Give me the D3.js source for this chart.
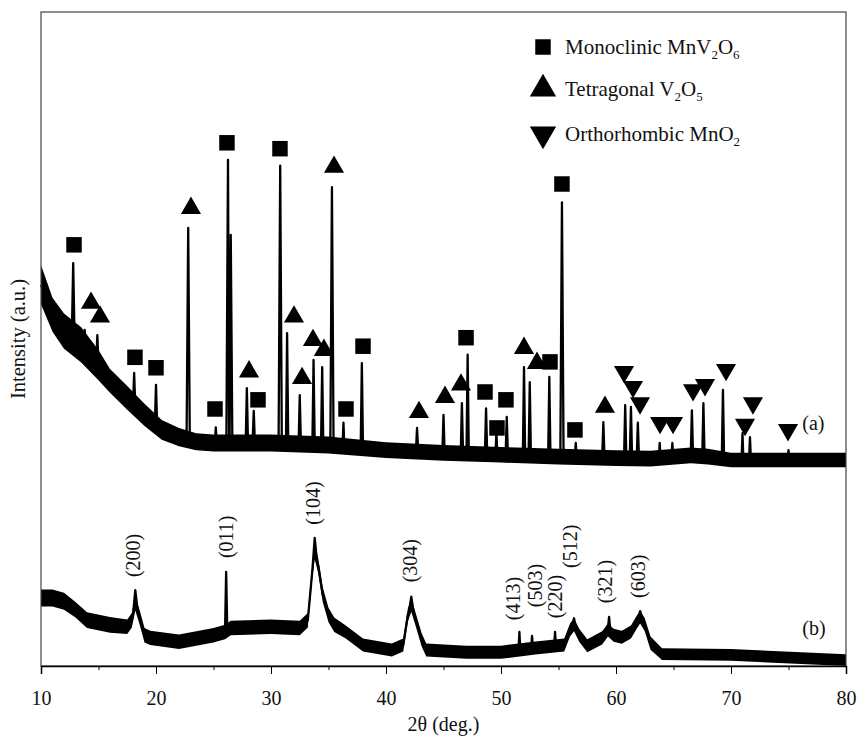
<!DOCTYPE html>
<meta charset="utf-8">
<style>
body { margin: 0; background: #fff; }
svg text { font-family: "Liberation Serif", "Times New Roman", serif; fill: #111; }
</style>
<body>
<svg width="858" height="745"></svg>
<script src="https://d3js.org/d3.v7.min.js"></script>
<script>

// ---- data (2θ in deg., intensity in a.u.) ----

// pattern (a): mid line of the noisy band [2θ, intensity, half band]
var baseA = [[10, 58.3, 3.0], [11, 53.7, 2.6], [12, 51.2, 2.7], [13.5, 49.1, 2.7], [15, 46.0, 2.3],
  [16, 43.6, 1.8], [17.5, 41.0, 1.8], [19, 38.4, 1.7], [20.5, 36.1, 1.5], [22, 35.0, 1.4],
  [23.5, 34.3, 1.3], [25, 34.1, 1.3], [30, 34.1, 1.3], [35, 33.8, 1.3], [40, 33.0, 1.2],
  [45, 32.6, 1.2], [50, 32.3, 1.2], [55, 32.0, 1.2], [60, 31.8, 1.2], [63, 31.7, 1.2],
  [66.5, 32.2, 1.2], [68, 32.0, 1.2], [70, 31.5, 1.1], [80, 31.5, 1.1]];

// pattern (a): sharp reflections [2θ, apex, half width]
var peaksA = [[12.8, 61.6, 0.12], [13.8, 51.4, 0.1], [14.9, 50.6, 0.1], [18.1, 44.8, 0.1],
  [20.0, 43.0, 0.1], [22.8, 67.0, 0.14], [25.2, 36.5, 0.08], [26.26, 77.4, 0.14], [26.5, 65.9, 0.14],
  [27.9, 42.5, 0.1], [28.5, 39.0, 0.1], [30.8, 76.5, 0.14], [31.4, 50.9, 0.1], [32.5, 41.4, 0.1],
  [33.7, 46.8, 0.1], [34.45, 45.7, 0.1], [35.3, 73.2, 0.14], [36.3, 37.2, 0.08], [37.9, 46.3, 0.1],
  [42.7, 36.4, 0.1], [45.0, 38.4, 0.1], [46.6, 40.2, 0.1], [47.1, 47.6, 0.1], [48.7, 39.4, 0.1],
  [49.6, 35.8, 0.08], [50.5, 38.1, 0.1], [52.0, 45.7, 0.1], [52.5, 43.4, 0.1], [54.2, 44.2, 0.1],
  [55.3, 70.9, 0.14], [56.5, 34.1, 0.08], [58.9, 37.3, 0.1], [60.8, 39.9, 0.1], [61.3, 39.6, 0.1],
  [61.9, 37.2, 0.1], [63.8, 34.1, 0.08], [64.9, 34.1, 0.08], [66.6, 39.1, 0.1], [67.6, 40.2, 0.1],
  [69.3, 42.2, 0.1], [71.0, 35.6, 0.08], [71.65, 35.0, 0.08], [75.0, 33.0, 0.08]];

// phase markers above pattern (a) [2θ, intensity]
var squares = [[12.87, 64.4], [18.17, 47.2], [20.0, 45.6], [25.13, 39.3], [26.17, 80.0], [28.87, 40.7],
  [30.78, 79.1], [36.52, 39.3], [38.0, 48.9], [46.96, 50.2], [48.61, 41.9], [49.65, 36.4],
  [50.43, 40.7], [54.26, 46.5], [55.3, 73.7], [56.43, 36.1]];
var upTriangles = [[14.35, 55.5], [15.13, 53.4], [23.04, 70.0], [28.09, 45.0], [32.0, 53.4],
  [32.7, 44.0], [33.65, 49.8], [34.6, 48.3], [35.48, 76.3], [42.87, 38.8], [45.13, 41.1],
  [46.52, 43.0], [52.0, 48.6], [53.13, 46.3], [59.04, 39.6]];
var downTriangles = [[60.7, 45.0], [61.48, 42.7], [62.09, 40.2], [63.83, 37.2], [64.96, 37.2],
  [66.7, 42.2], [67.74, 43.0], [69.57, 45.3], [71.91, 40.2], [71.22, 36.9], [74.96, 36.1]];

// pattern (b): mid line of the band, broad humps included
var baseB = [[10, 10.4, 1.3], [11, 10.4, 1.3], [12, 9.9, 1.3], [13, 8.6, 1.2], [14, 7.0, 1.2],
  [16, 6.3, 1.2], [17.5, 6.0, 1.1], [17.9, 7.0, 1.1], [18.2, 9.6, 1.1], [18.6, 7.3, 1.1],
  [19.0, 4.7, 1.1], [19.5, 4.3, 1.1], [22, 3.7, 1.1], [25, 4.7, 1.1], [26.0, 5.2, 1.1],
  [26.5, 5.8, 1.1], [30, 6.0, 1.1], [32.5, 5.8, 1.1], [33.2, 7.0, 1.1], [33.6, 14.7, 1.1],
  [33.8, 17.4, 1.1], [34.1, 15.4, 1.1], [34.5, 10.9, 1.1], [35.0, 7.8, 1.1], [35.5, 6.3, 1.1],
  [36.5, 5.2, 1.0], [38, 3.2, 1.0], [40.5, 2.45, 1.0], [41.5, 3.2, 1.0], [41.9, 7.8, 1.0],
  [42.2, 9.3, 1.0], [42.6, 7.0, 1.0], [43.1, 4.0, 1.0], [43.5, 2.45, 1.0], [47, 2.1, 1.0],
  [50, 2.1, 1.0], [53, 2.75, 1.0], [55.5, 3.2, 1.0], [56.0, 5.5, 1.0], [56.35, 6.3, 1.0],
  [56.8, 4.7, 1.0], [57.5, 3.1, 1.0], [58.8, 4.3, 1.0], [59.3, 5.5, 1.0], [59.8, 4.7, 1.0],
  [60.5, 4.4, 1.0], [61.3, 5.2, 1.0], [61.8, 6.7, 1.0], [62.1, 7.5, 1.0], [62.5, 6.3, 1.0],
  [63.0, 3.5, 1.0], [64, 1.8, 0.9], [70, 1.7, 0.9], [80, 0.9, 0.9]];

var peaksB = [[18.2, 11.6, 0.2], [26.1, 14.4, 0.1], [33.8, 19.6, 0.2], [42.2, 10.6, 0.2],
  [51.6, 5.2, 0.08], [52.7, 4.6, 0.08], [54.7, 5.2, 0.08], [56.35, 7.3, 0.15],
  [59.4, 7.5, 0.12], [62.1, 8.4, 0.15]];

// Miller indices over pattern (b) [label, 2θ, intensity at the foot of the label]
var hkl = [["(200)", 18.2, 13.6], ["(011)", 26.26, 16.5], ["(104)", 33.8, 21.6], ["(304)", 42.26, 12.8],
  ["(413)", 51.26, 7.0], ["(503)", 53.1, 9.0], ["(220)", 54.85, 7.3], ["(512)", 56.2, 15.0],
  ["(321)", 59.2, 9.6], ["(603)", 62.1, 10.4]];

var xTicks = [10, 20, 30, 40, 50, 60, 70, 80];
var xMinor = [15, 25, 35, 45, 55, 65, 75];

// ---- chart ----
var svg = d3.select("svg");
var mL = 41, mR = 846, mT = 12, mB = 666;

var x = d3.scaleLinear().domain([10, 80]).range([mL, mR]);
var y = d3.scaleLinear().domain([0, 100]).range([mB, mT]);

function tracePoints(base, peaks) {
  var mid = d3.scaleLinear().domain(base.map(function(d) { return d[0]; }))
      .range(base.map(function(d) { return d[1]; }));
  var pts = base.filter(function(d) {
    return !peaks.some(function(p) { return d[0] > p[0] - p[2] && d[0] < p[0] + p[2]; });
  }).map(function(d) { return [d[0], d[1]]; });
  peaks.forEach(function(p) {
    pts.push([p[0] - p[2], mid(p[0] - p[2])], [p[0], p[1]], [p[0] + p[2], mid(p[0] + p[2])]);
  });
  return pts.sort(function(a, b) { return a[0] - b[0]; });
}

var band = d3.area()
    .x(function(d) { return x(d[0]); })
    .y0(function(d) { return y(d[1] - d[2]); })
    .y1(function(d) { return y(d[1] + d[2]); });

var line = d3.line()
    .x(function(d) { return x(d[0]); })
    .y(function(d) { return y(d[1]); });

[[baseA, peaksA], [baseB, peaksB]].forEach(function(s) {
  svg.append("path").attr("d", band(s[0])).attr("fill", "#000");
  svg.append("path").attr("d", line(tracePoints(s[0], s[1])))
      .attr("fill", "none").attr("stroke", "#000").attr("stroke-width", 2.3)
      .attr("stroke-linejoin", "round");
});

// frame
svg.append("rect").attr("x", mL).attr("y", mT)
    .attr("width", mR - mL).attr("height", mB - mT)
    .attr("fill", "none").attr("stroke", "#444").attr("stroke-width", 1.2);

// x axis
var gx = svg.append("g").attr("transform", "translate(0," + mB + ")")
    .call(d3.axisBottom(x).tickValues(xTicks).tickSize(8).tickFormat(d3.format("d")));
gx.select(".domain").attr("stroke", "#000").attr("stroke-width", 1.5);
gx.selectAll("text").attr("y", 39).attr("dy", 0)
    .style("font-family", "'Liberation Serif', serif").style("font-size", "20px").attr("fill", "#111");
var gm = svg.append("g").attr("transform", "translate(0," + mB + ")")
    .call(d3.axisBottom(x).tickValues(xMinor).tickSize(4).tickFormat(""));
gm.select(".domain").remove();

svg.append("text").attr("x", (mL + mR) / 2).attr("y", 731)
    .attr("text-anchor", "middle").style("font-size", "20px").text("2θ (deg.)");

svg.append("text").attr("transform", "translate(25," + (mT + mB) / 2 + ") rotate(-90)")
    .attr("text-anchor", "middle").style("font-size", "20.5px").text("Intensity (a.u.)");

// markers
var sym = d3.symbol();
svg.selectAll(".sq").data(squares).enter().append("path")
    .attr("d", sym.type(d3.symbolSquare).size(240)())
    .attr("transform", function(d) { return "translate(" + x(d[0]) + "," + y(d[1]) + ")"; });
svg.selectAll(".up").data(upTriangles).enter().append("path")
    .attr("d", sym.type(d3.symbolTriangle).size(175)())
    .attr("transform", function(d) { return "translate(" + x(d[0]) + "," + y(d[1]) + ")"; });
svg.selectAll(".dn").data(downTriangles).enter().append("path")
    .attr("d", sym.type(d3.symbolTriangle).size(175)())
    .attr("transform", function(d) { return "translate(" + x(d[0]) + "," + y(d[1]) + ") rotate(180)"; });

// pattern labels
svg.append("text").attr("x", x(76.2)).attr("y", 430).style("font-size", "20px").text("(a)");
svg.append("text").attr("x", x(76.2)).attr("y", 635).style("font-size", "20px").text("(b)");

// hkl labels
svg.selectAll(".hkl").data(hkl).enter().append("text")
    .attr("transform", function(d) { return "translate(" + (x(d[1]) + 5) + "," + y(d[2]) + ") rotate(-90)"; })
    .style("font-size", "20px").text(function(d) { return d[0]; });

// legend
var legend = [
  { sym: d3.symbolSquare, size: 240, rot: 0, name: "Monoclinic MnV", parts: [["2", "O"], ["6", ""]] },
  { sym: d3.symbolTriangle, size: 300, rot: 0, name: "Tetragonal V", parts: [["2", "O"], ["5", ""]] },
  { sym: d3.symbolTriangle, size: 300, rot: 180, name: "Orthorhombic MnO", parts: [["2", ""]] }
];
var legY = [47, 89, 134];
legend.forEach(function(l, i) {
  svg.append("path").attr("d", d3.symbol().type(l.sym).size(l.size)())
      .attr("transform", "translate(543," + legY[i] + ") rotate(" + l.rot + ")");
  var t = svg.append("text").attr("x", 565).attr("y", legY[i] + 7).style("font-size", "21px");
  t.append("tspan").text(l.name);
  l.parts.forEach(function(p) {
    t.append("tspan").attr("dy", 5).style("font-size", "13px").text(p[0]);
    if (p[1]) t.append("tspan").attr("dy", -5).text(p[1]);
  });
});

</script>
</body>
